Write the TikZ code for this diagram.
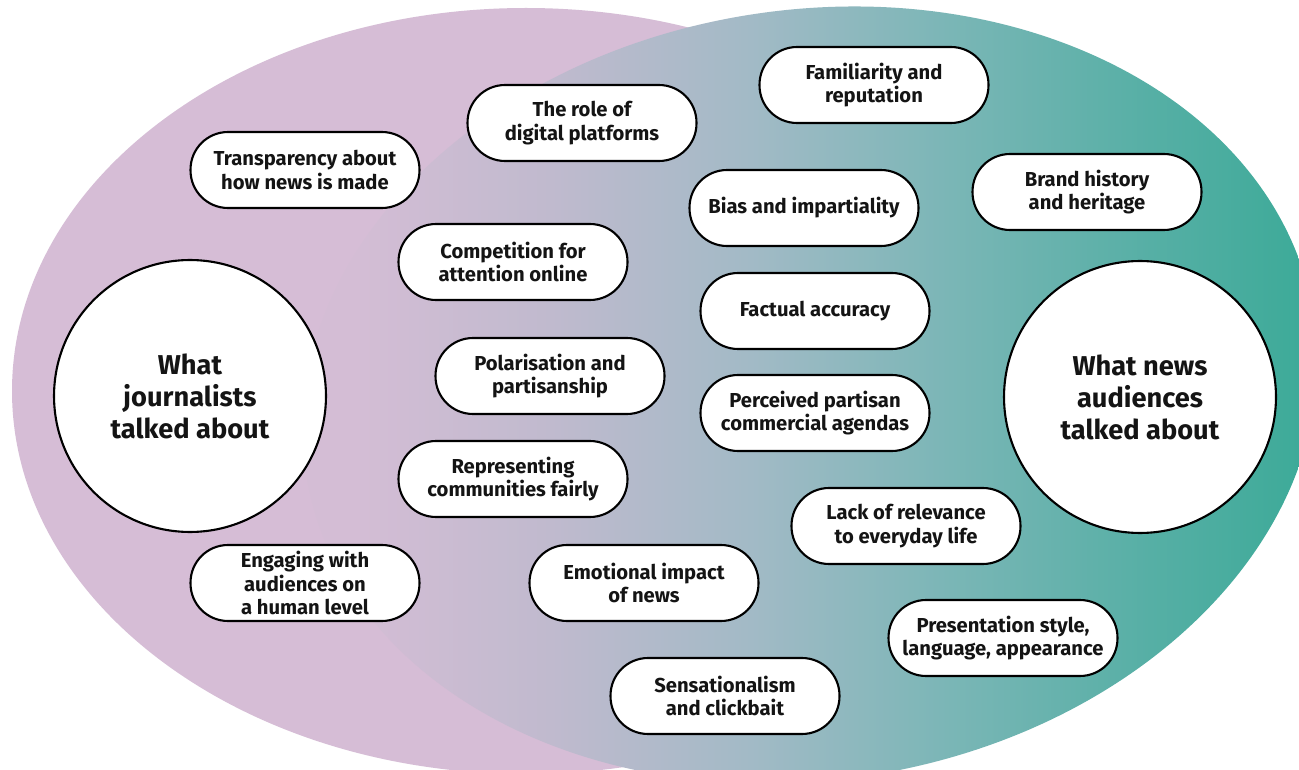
\documentclass[tikz,border=0pt]{standalone}
\usepackage{fontspec}
\setmainfont{Fira Sans}

% set colours
\definecolor{setpink}{RGB}{214,189,214}
\definecolor{fadeA}{RGB}{212,189,213}
\definecolor{fadeB}{RGB}{192,186,206}
\definecolor{fadeC}{RGB}{162,186,198}
\definecolor{fadeD}{RGB}{122,182,182}
\definecolor{fadeE}{RGB}{86,175,165}
\definecolor{fadeF}{RGB}{60,170,152}
\definecolor{inktext}{RGB}{20,20,20}

% left-to-right fade of the audience set (inner band 25bp--75bp spans the filled box)
\pgfdeclarehorizontalshading{audiencefade}{100bp}{%
  color(0bp)=(fadeA); color(27.7bp)=(fadeA); color(37.3bp)=(fadeB);
  color(47.1bp)=(fadeC); color(56.9bp)=(fadeD); color(66.7bp)=(fadeE);
  color(74.5bp)=(fadeF); color(100bp)=(fadeF)}

\begin{document}
\begin{tikzpicture}[x=0.02cm, y=-0.02cm,
  topic/.style={draw=black, line width=1.2pt, fill=white, rounded corners=0.75cm,
    minimum width=4.58cm, minimum height=1.52cm, inner sep=0pt, align=center,
    text=inktext, font=\bfseries\fontsize{11.5}{13.6}\selectfont},
  setlabel/.style={circle, draw=black, line width=1.2pt, fill=white,
    minimum size=5.44cm, inner sep=0pt, align=center, text=inktext,
    font=\bfseries\fontsize{15.5}{18.2}\selectfont}]

\useasboundingbox (0,0) rectangle (1299,770);
\clip (0,0) rectangle (1299,770);
\fill[white] (0,0) rectangle (1299,770);

% journalists set
\fill[setpink] (526,391) ellipse [x radius=514, y radius=383];

% audiences set: a slightly tilted ellipse filled with a horizontal fade
\begin{scope}
  \clip[rotate around={8.9:(810,395)}] (810,395) ellipse [x radius=510, y radius=385];
  \shade[shading=audiencefade] (300,-10) rectangle (1320,790);
\end{scope}

% set titles
\node[setlabel] (journ) at (190,396) {What\\journalists\\talked about};
\node[setlabel] (aud) at (1140,397) {What news\\audiences\\talked about};

% topics
\node[topic] (transp) at (305,170) {Transparency about\\how news is made};
\node[topic] (platf) at (582,123) {The role of\\digital platforms};
\node[topic] (famil) at (874,85) {Familiarity and\\reputation};
\node[topic] (brand) at (1087,192) {Brand history\\and heritage};
\node[topic] (bias) at (804,208) {Bias and impartiality};
\node[topic] (compet) at (513,262) {Competition for\\attention online};
\node[topic] (fact) at (815,311) {Factual accuracy};
\node[topic] (polar) at (550,376) {Polarisation and\\partisanship};
\node[topic] (agenda) at (815,413) {Perceived partisan\\commercial agendas};
\node[topic] (repr) at (513,479) {Representing\\communities fairly};
\node[topic] (relev) at (906,526) {Lack of relevance\\to everyday life};
\node[topic] (engage) at (305,583) {Engaging with\\audiences on\\a human level};
\node[topic] (emot) at (644,583) {Emotional impact\\of news};
\node[topic] (present) at (1003,638) {Presentation style,\\language, appearance};
\node[topic] (sensat) at (725,696) {Sensationalism\\and clickbait};
\end{tikzpicture}
\end{document}
